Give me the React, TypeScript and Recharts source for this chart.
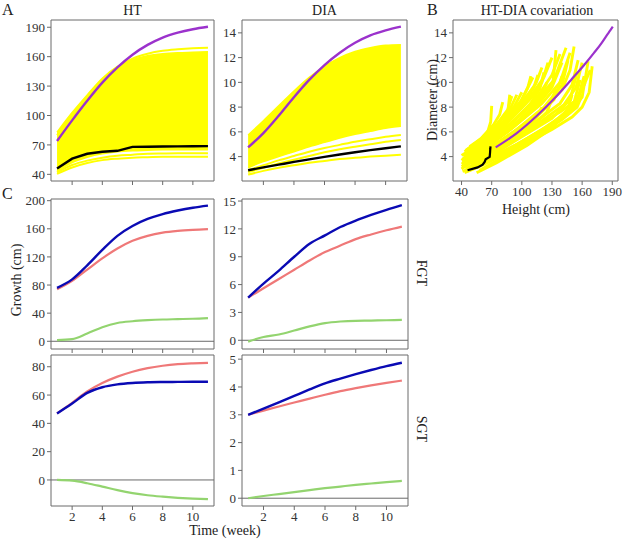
import React from "react"
import { ComposedChart, Line, Area, XAxis, YAxis, ReferenceArea, ReferenceLine } from "recharts"

const FONT = "'Liberation Serif', 'DejaVu Serif', serif"
const AXIS = "#6a6a6a"
const YELLOW = "#ffff00"
const PURPLE = "#9b32cc"
const BLUE = "#0a0ab4"
const RED = "#ef7878"
const GREEN = "#93d46f"

const weeks = [1, 2, 3, 4, 5, 6, 7, 8, 9, 10, 11]
const weekTicks = [2, 4, 6, 8, 10]

// A / HT
const htPurple = [74, 95, 115, 133.5, 149, 162, 172, 179.5, 184.5, 188, 190.5]
const htBlack = [46, 56, 61, 63, 64, 68, 68.2, 68.4, 68.5, 68.7, 68.8]
const htBandLow = [43, 52, 57.5, 61, 63, 64, 64.5, 65, 65, 65, 65]
const htBandHigh = [83, 103, 121, 138, 150, 157, 161, 163, 164, 164.5, 165]
const htTopLine = [80, 100, 119, 136, 149, 158, 163, 166, 167.5, 168.5, 169]
const htLowLine1 = [40.5, 47, 51.5, 54.5, 56, 57, 57.5, 58, 58, 58, 58]
const htLowLine2 = [42, 49.5, 54, 57, 59, 60, 61, 61.3, 61.5, 61.5, 61.5]

// A / DIA
const diaPurple = [4.75, 5.9, 7.3, 8.8, 10.2, 11.4, 12.4, 13.2, 13.8, 14.2, 14.5]
const diaBlack = [2.9, 3.13, 3.35, 3.57, 3.78, 3.98, 4.17, 4.35, 4.52, 4.68, 4.83]
const diaBandLow = [3.1, 3.6, 4.0, 4.4, 4.8, 5.15, 5.5, 5.8, 6.05, 6.3, 6.45]
const diaBandHigh = [5.75, 6.9, 8.1, 9.3, 10.4, 11.3, 12.0, 12.5, 12.8, 13.0, 13.05]
const diaLowLine1 = [2.9, 3.3, 3.7, 4.05, 4.4, 4.7, 4.95, 5.2, 5.4, 5.6, 5.75]
const diaLowLine2 = [2.75, 3.1, 3.45, 3.75, 4.05, 4.35, 4.6, 4.8, 5.0, 5.2, 5.35]
const diaLowLine3 = [2.55, 2.85, 3.1, 3.3, 3.5, 3.65, 3.8, 3.9, 4.0, 4.08, 4.15]

// B: height / diameter paths, [height, diameter]
const covarPaths: number[][][] = [
  [[41, 2.8], [58, 3.3], [80, 4.1], [105, 5.1], [130, 6.2], [150, 7.2], [160, 8.0], [167, 9.2], [170, 11.3]],
  [[44, 3.0], [65, 3.8], [95, 5.0], [125, 6.4], [148, 7.6], [160, 8.8], [166, 11.7]],
  [[42, 3.2], [62, 4.0], [90, 5.3], [120, 6.9], [142, 8.2], [154, 9.6], [160, 11.6]],
  [[48, 2.9], [70, 3.7], [100, 5.0], [130, 6.5], [150, 7.8], [158, 10.2]],
  [[55, 2.7], [75, 3.5], [105, 4.9], [130, 6.3], [145, 7.6], [150, 9.0]],
  [[46, 3.1], [70, 4.1], [100, 5.6], [130, 7.1], [148, 8.6], [155, 10.8]],
  [[40, 3.4], [60, 4.3], [90, 5.9], [120, 7.7], [140, 9.4], [148, 11.0], [152, 12.9]],
  [[43, 3.6], [62, 4.6], [92, 6.4], [120, 8.3], [138, 10.0], [148, 12.4]],
  [[41, 3.8], [58, 4.7], [85, 6.4], [112, 8.3], [132, 10.2], [144, 12.8]],
  [[45, 3.9], [65, 5.0], [92, 6.9], [116, 8.9], [130, 10.6], [138, 12.3]],
  [[42, 4.0], [60, 5.0], [85, 6.8], [108, 8.8], [122, 10.4], [130, 12.0]],
  [[44, 4.2], [62, 5.2], [85, 7.0], [104, 8.8], [114, 9.9], [120, 11.2]],
  [[46, 4.3], [64, 5.4], [84, 7.0], [100, 8.6], [111, 10.4]],
  [[43, 4.4], [60, 5.3], [78, 6.8], [92, 8.0], [100, 9.2]],
  [[47, 4.6], [62, 5.5], [76, 6.7], [86, 7.8], [90, 8.9]],
  [[45, 4.5], [60, 5.5], [72, 6.6], [78, 7.4], [81, 8.4]],
  [[48, 4.8], [60, 5.5], [66, 6.0], [69, 6.8], [70, 8.1]],
  [[40, 3.0], [50, 3.6], [58, 4.2], [62, 4.9]],
  [[50, 3.3], [75, 4.4], [105, 6.0], [125, 7.6], [134, 9.5]],
  [[46, 3.4], [70, 4.6], [95, 6.0], [115, 7.2], [120, 8.0]],
  [[52, 3.6], [80, 5.0], [110, 6.8], [132, 8.6], [140, 10.5]],
  [[42, 3.6], [65, 4.9], [88, 6.3], [105, 7.5]],
  [[48, 3.8], [72, 5.2], [98, 7.0], [117, 8.5], [125, 10.0]],
  [[44, 3.9], [62, 5.0], [80, 6.3], [95, 7.6]],
  [[40, 3.7], [52, 4.5], [65, 5.4], [75, 6.5]],
  [[43, 3.3], [60, 4.0], [88, 5.4], [115, 6.9], [138, 8.3], [150, 9.8], [156, 11.8]],
  [[45, 3.5], [65, 4.5], [95, 6.2], [122, 8.0], [140, 9.8], [146, 11.8]],
  [[41, 3.5], [58, 4.4], [86, 6.0], [112, 7.8], [130, 9.6], [140, 11.6]],
  [[47, 3.7], [66, 4.8], [94, 6.6], [118, 8.5], [131, 10.0], [134, 12.6]],
  [[44, 4.1], [63, 5.1], [88, 6.9], [110, 8.8], [120, 10.0], [126, 11.6]],
  [[46, 4.0], [68, 5.2], [90, 6.7], [108, 8.2], [118, 9.5], [122, 10.8]],
  [[42, 4.1], [60, 5.1], [82, 6.8], [98, 8.3], [106, 9.6], [109, 10.5]],
  [[44, 4.5], [58, 5.3], [74, 6.5], [88, 7.8], [95, 9.0]],
  [[40, 3.2], [55, 3.8], [78, 4.8], [108, 6.2], [138, 7.6], [155, 8.6], [163, 10.0]],
  [[50, 3.0], [72, 3.9], [102, 5.3], [132, 6.8], [152, 8.2], [162, 9.8], [168, 11.0]],
  [[58, 2.9], [80, 3.9], [110, 5.4], [140, 7.0], [155, 8.0], [160, 9.0]],
  [[45, 2.9], [60, 3.4], [85, 4.5], [115, 5.9], [140, 7.3], [156, 8.8], [162, 10.5]],
  [[49, 4.1], [68, 5.4], [80, 6.4], [86, 7.6], [88, 9.0]],
  [[52, 4.3], [70, 5.6], [90, 7.3], [104, 8.6], [112, 9.6], [116, 10.6]],
  [[40, 4.1], [50, 4.6], [60, 5.2], [65, 5.6]],
  [[43, 2.7], [55, 3.1], [68, 3.6], [75, 4.0]],
]

// C: FGT
const fgtHtBlue = [76, 88, 108, 130, 150, 164, 174, 181, 186, 190, 193]
const fgtHtRed = [74, 86, 102, 118, 132, 143, 150, 154.5, 157, 158.5, 159.5]
const fgtHtGreen = [1.5, 3, 11, 20, 26, 28.5, 30, 31, 31.5, 32, 33]
const fgtDiaBlue = [4.6, 6.1, 7.5, 9.0, 10.4, 11.3, 12.2, 12.9, 13.5, 14.05, 14.55]
const fgtDiaRed = [4.6, 5.6, 6.6, 7.6, 8.6, 9.5, 10.2, 10.9, 11.4, 11.85, 12.25]
const fgtDiaGreen = [-0.15, 0.35, 0.62, 1.05, 1.5, 1.85, 2.02, 2.1, 2.12, 2.16, 2.2]

// C: SGT
const sgtHtBlue = [47, 54, 61.5, 65.5, 67.5, 68.5, 69, 69.2, 69.3, 69.4, 69.4]
const sgtHtRed = [47, 54.5, 62.5, 68.5, 73, 76.5, 79, 80.7, 81.8, 82.4, 82.8]
const sgtHtGreen = [0, -0.5, -2.3, -4.7, -7.2, -9.3, -10.8, -11.8, -12.6, -13.2, -13.6]
const sgtDiaBlue = [3.0, 3.22, 3.45, 3.68, 3.91, 4.13, 4.3, 4.46, 4.61, 4.75, 4.87]
const sgtDiaRed = [3.0, 3.15, 3.3, 3.44, 3.58, 3.72, 3.85, 3.96, 4.06, 4.15, 4.23]
const sgtDiaGreen = [0, 0.08, 0.15, 0.22, 0.29, 0.36, 0.42, 0.48, 0.53, 0.58, 0.62]

const htRows = weeks.map((w, i) => ({
  x: w,
  band: [htBandLow[i], htBandHigh[i]],
  top: htTopLine[i],
  low1: htLowLine1[i],
  low2: htLowLine2[i],
  purple: htPurple[i],
  black: htBlack[i],
}))

const diaRows = weeks.map((w, i) => ({
  x: w,
  band: [diaBandLow[i], diaBandHigh[i]],
  low1: diaLowLine1[i],
  low2: diaLowLine2[i],
  low3: diaLowLine3[i],
  purple: diaPurple[i],
  black: diaBlack[i],
}))

const growthRows = (blue: number[], red: number[], green: number[]) =>
  weeks.map((w, i) => ({ x: w, blue: blue[i], red: red[i], green: green[i] }))

const covarPurple = htPurple.map((h, i) => ({ h, d: diaPurple[i] }))
const covarBlack = htBlack.map((h, i) => ({ h, d: diaBlack[i] }))

const YW = 40
const XH = 28
const MT = 10
const MR = 6
const tickStyle = { fontSize: 13, fill: "#333", fontFamily: FONT }

type PanelProps = {
  left: number
  top: number
  width: number
  height: number
  xDomain: [number, number]
  yDomain: [number, number]
  xTicks: number[]
  yTicks: number[]
  xKey: string
  data?: any[]
  xLabels?: boolean
  zeroLine?: boolean
  children: React.ReactNode
}

function Panel(p: PanelProps) {
  return (
    <div style={{ position: "absolute", left: p.left - YW, top: p.top - MT, fontFamily: FONT }}>
      <ComposedChart
        width={p.width + YW + MR}
        height={p.height + MT + XH}
        data={p.data}
        margin={{ top: MT, right: MR, bottom: 0, left: 0 }}
        style={{ fontFamily: FONT }}
      >
        <XAxis
          dataKey={p.xKey}
          type="number"
          domain={p.xDomain}
          allowDataOverflow
          ticks={p.xTicks}
          axisLine={false}
          tickSize={4}
          tickMargin={2}
          height={XH}
          stroke={AXIS}
          tick={tickStyle}
          tickFormatter={(v) => (p.xLabels ? String(v) : "")}
          interval={0}
        />
        <YAxis
          type="number"
          domain={p.yDomain}
          allowDataOverflow
          ticks={p.yTicks}
          axisLine={false}
          tickSize={4}
          tickMargin={2}
          width={YW}
          stroke={AXIS}
          tick={tickStyle}
          interval={0}
        />
        <ReferenceArea
          x1={p.xDomain[0]}
          x2={p.xDomain[1]}
          y1={p.yDomain[0]}
          y2={p.yDomain[1]}
          fill="none"
          stroke={AXIS}
          strokeWidth={1}
          ifOverflow="visible"
        />
        {p.zeroLine && <ReferenceLine y={0} stroke={AXIS} strokeWidth={1} />}
        {p.children}
      </ComposedChart>
    </div>
  )
}

const weekDomain: [number, number] = [0.6, 11.4]

function yellowLine(key: string) {
  return (
    <Line key={key} dataKey={key} type="monotone" stroke={YELLOW} strokeWidth={2} dot={false} isAnimationActive={false} />
  )
}

function growthLines() {
  return [
    <Line key="red" dataKey="red" type="monotone" stroke={RED} strokeWidth={2.2} dot={false} isAnimationActive={false} />,
    <Line key="blue" dataKey="blue" type="monotone" stroke={BLUE} strokeWidth={2.4} dot={false} isAnimationActive={false} />,
    <Line key="green" dataKey="green" type="monotone" stroke={GREEN} strokeWidth={2.2} dot={false} isAnimationActive={false} />,
  ]
}

export default function App() {
  return (
    <div style={{ position: "absolute", left: 0, top: 0, width: 623, height: 540, background: "#fff", overflow: "hidden", fontFamily: FONT }}>
      <Panel left={51} top={20} width={163} height={161} xDomain={weekDomain} yDomain={[33.2, 197.4]}
        xTicks={weekTicks} yTicks={[40, 70, 100, 130, 160, 190]} xKey="x" data={htRows}>
        <Area dataKey="band" type="monotone" fill={YELLOW} fillOpacity={1} stroke={YELLOW} strokeWidth={1.5} dot={false} activeDot={false} isAnimationActive={false} />
        {yellowLine("top")}
        {yellowLine("low1")}
        {yellowLine("low2")}
        <Line dataKey="purple" type="monotone" stroke={PURPLE} strokeWidth={2.4} dot={false} isAnimationActive={false} />
        <Line dataKey="black" type="linear" stroke="#000" strokeWidth={2.4} dot={false} isAnimationActive={false} />
      </Panel>

      <Panel left={242} top={20} width={165} height={161} xDomain={weekDomain} yDomain={[2.03, 15.04]}
        xTicks={weekTicks} yTicks={[4, 6, 8, 10, 12, 14]} xKey="x" data={diaRows}>
        <Area dataKey="band" type="monotone" fill={YELLOW} fillOpacity={1} stroke={YELLOW} strokeWidth={1.5} dot={false} activeDot={false} isAnimationActive={false} />
        {yellowLine("low1")}
        {yellowLine("low2")}
        {yellowLine("low3")}
        <Line dataKey="purple" type="monotone" stroke={PURPLE} strokeWidth={2.4} dot={false} isAnimationActive={false} />
        <Line dataKey="black" type="monotone" stroke="#000" strokeWidth={2.4} dot={false} isAnimationActive={false} />
      </Panel>

      <Panel left={453} top={20} width={165} height={161} xDomain={[31.5, 195.7]} yDomain={[2.03, 15.04]}
        xTicks={[40, 70, 100, 130, 160, 190]} yTicks={[4, 6, 8, 10, 12, 14]} xKey="h" xLabels>
        {covarPaths.map((path, i) => (
          <Line key={"p" + i} data={path.map(([h, d]) => ({ h, d }))} dataKey="d" type="linear"
            stroke={YELLOW} strokeWidth={2.9} dot={false} isAnimationActive={false} />
        ))}
        <Line data={covarPurple} dataKey="d" type="monotone" stroke={PURPLE} strokeWidth={2.2} dot={false} isAnimationActive={false} />
        <Line data={covarBlack} dataKey="d" type="linear" stroke="#000" strokeWidth={2.2} dot={false} isAnimationActive={false} />
      </Panel>

      <Panel left={51} top={199} width={163} height={150} xDomain={weekDomain} yDomain={[-11, 202.4]}
        xTicks={weekTicks} yTicks={[0, 40, 80, 120, 160, 200]} xKey="x" zeroLine
        data={growthRows(fgtHtBlue, fgtHtRed, fgtHtGreen)}>
        {growthLines()}
      </Panel>

      <Panel left={242} top={199} width={166} height={150} xDomain={weekDomain} yDomain={[-0.94, 15.22]}
        xTicks={weekTicks} yTicks={[0, 3, 6, 9, 12, 15]} xKey="x" zeroLine
        data={growthRows(fgtDiaBlue, fgtDiaRed, fgtDiaGreen)}>
        {growthLines()}
      </Panel>

      <Panel left={51} top={355} width={163} height={151} xDomain={weekDomain} yDomain={[-18.4, 88.3]}
        xTicks={weekTicks} yTicks={[0, 20, 40, 60, 80]} xKey="x" zeroLine xLabels
        data={growthRows(sgtHtBlue, sgtHtRed, sgtHtGreen)}>
        {growthLines()}
      </Panel>

      <Panel left={242} top={355} width={166} height={151} xDomain={weekDomain} yDomain={[-0.28, 5.15]}
        xTicks={weekTicks} yTicks={[0, 1, 2, 3, 4, 5]} xKey="x" zeroLine xLabels
        data={growthRows(sgtDiaBlue, sgtDiaRed, sgtDiaGreen)}>
        {growthLines()}
      </Panel>

      <svg width={623} height={540} style={{ position: "absolute", left: 0, top: 0, pointerEvents: "none", fontFamily: FONT }}
        fill="#222">
        <text x={2} y={15} fontSize={16}>A</text>
        <text x={427} y={15} fontSize={16}>B</text>
        <text x={2} y={199} fontSize={16}>C</text>
        <text x={132.5} y={15} fontSize={14} textAnchor="middle">HT</text>
        <text x={324.5} y={15} fontSize={14} textAnchor="middle">DIA</text>
        <text x={537} y={15} fontSize={14} textAnchor="middle">HT-DIA covariation</text>
        <text x={536} y={214} fontSize={14} textAnchor="middle">Height (cm)</text>
        <text x={225} y={535} fontSize={14} textAnchor="middle">Time (week)</text>
        <text transform="translate(437,100) rotate(-90)" fontSize={14} textAnchor="middle">Diameter (cm)</text>
        <text transform="translate(21,280) rotate(-90)" fontSize={14} textAnchor="middle">Growth (cm)</text>
        <text transform="translate(417,273) rotate(90)" fontSize={14} textAnchor="middle">FGT</text>
        <text transform="translate(417,429) rotate(90)" fontSize={14} textAnchor="middle">SGT</text>
      </svg>
    </div>
  )
}
